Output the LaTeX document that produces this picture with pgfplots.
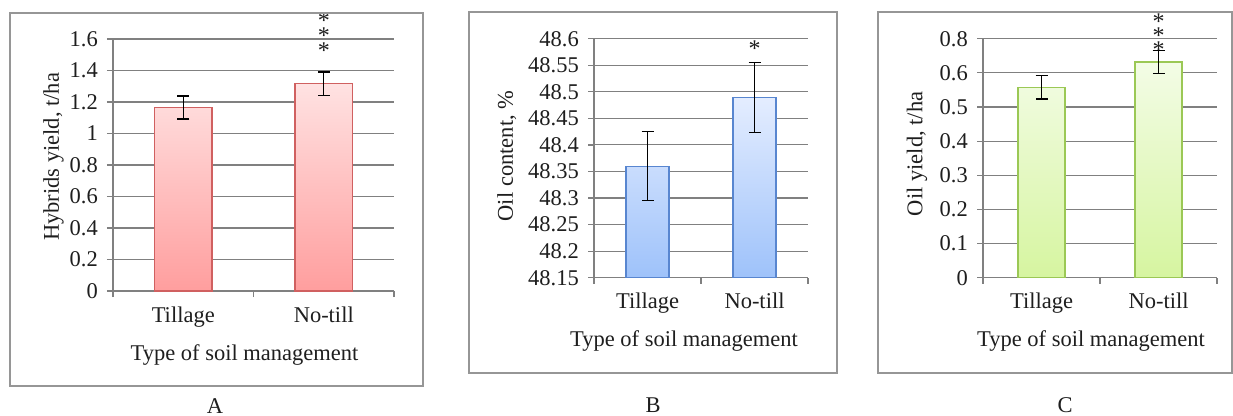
\documentclass[border=0pt]{standalone}
\usepackage{fontspec}
\setmainfont{Liberation Serif}
\usepackage{pgfplots}
\pgfplotsset{compat=1.18}

\definecolor{gridc}{RGB}{128,128,128}
\definecolor{framec}{RGB}{150,150,150}
\definecolor{textc}{RGB}{30,30,30}
\definecolor{redtop}{RGB}{255,226,226}
\definecolor{redbot}{RGB}{255,158,158}
\definecolor{redline}{RGB}{208,96,96}
\definecolor{bluetop}{RGB}{228,237,255}
\definecolor{bluebot}{RGB}{158,194,250}
\definecolor{blueline}{RGB}{88,134,208}
\definecolor{greentop}{RGB}{243,252,230}
\definecolor{greenbot}{RGB}{214,245,160}
\definecolor{greenline}{RGB}{155,200,85}

\newcommand{\bigf}{\fontsize{22.5}{27}\selectfont}
\newcommand{\astf}{\fontsize{24}{28}\selectfont}

\tikzset{ast/.style={font=\astf, anchor=base, yshift=-11.3pt, inner sep=0pt, text=textc}}

\pgfplotsset{
  panel/.style={
    scale only axis,
    xmin=-0.5, xmax=1.5,
    axis x line*=bottom, axis y line*=left,
    axis line style={gridc, line width=1.2pt, -},
    tick align=outside,
    xtick={-0.5,0.5,1.5}, xticklabels={},
    major tick length=6pt,
    tick style={gridc, line width=1.2pt},
    extra x ticks={0,1},
    extra x tick labels={Tillage,No-till},
    extra x tick style={major tick length=0pt, xticklabel style={anchor=base, yshift=-31pt}},
    ymajorgrids,
    major grid style={gridc, line width=1.1pt},
    tick label style={font=\bigf, text=textc},
    label style={font=\bigf, text=textc},
    yticklabel style={anchor=east, inner sep=0pt, xshift=-9pt},
    xlabel={Type of soil management},
    xlabel style={at={(axis description cs:0.5,0)}, anchor=base, yshift=-69pt},
    ylabel style={anchor=center},
    clip=false,
  },
  errb/.style={error bars/.cd, y dir=both, y explicit,
    error bar style={black, line width=1.3pt},
    error mark options={rotate=90, black, line width=1.3pt, mark size=6pt}},
}

\begin{document}
\begin{tikzpicture}
% Panel A
\begin{scope}[shift={(113pt,124pt)}]
\begin{axis}[panel, anchor=south west, at={(0pt,0pt)}, width=281pt, height=252pt,
  ymin=0, ymax=1.6,
  ytick={0,0.2,0.4,0.6,0.8,1,1.2,1.4,1.6},
  yticklabels={0,0.2,0.4,0.6,0.8,1,1.2,1.4,1.6},
  ylabel={Hybrids yield, t/ha},
  ylabel style={at={(axis description cs:-0.212,0.532)}},
  xlabel style={xshift=-9pt}]
\addplot[ybar, bar width=0.41, bar shift=0pt, draw=redline, line width=1.3pt,
  top color=redtop, bottom color=redbot, errb]
  coordinates {(0,1.165) +- (0,0.073) (1,1.316) +- (0,0.074)};
\node[ast] at (axis cs:1,1.549) {*};
\node[ast] at (axis cs:1,1.644) {*};
\node[ast] at (axis cs:1,1.740) {*};
\end{axis}
\end{scope}

% Panel B
\begin{scope}[shift={(594pt,137.3pt)}]
\begin{axis}[panel, anchor=south west, at={(0pt,0pt)}, width=214pt, height=239pt,
  y coord trafo/.code={\pgfmathparse{#1-48.15}},
  y coord inv trafo/.code={\pgfmathparse{#1+48.15}},
  ymin=48.15, ymax=48.6,
  ytick={48.15,48.2,48.25,48.3,48.35,48.4,48.45,48.5,48.55,48.6},
  yticklabels={48.15,48.2,48.25,48.3,48.35,48.4,48.45,48.5,48.55,48.6},
  ylabel={Oil content, \%},
  ylabel style={at={(axis description cs:-0.407,0.509)}},
  xlabel style={xshift=-17pt}]
\addplot[ybar, bar width=0.40, bar shift=0pt, draw=blueline, line width=1.3pt,
  top color=bluetop, bottom color=bluebot, errb]
  coordinates {(0,48.360) +- (0,0.065) (1,48.489) +- (0,0.066)};
\node[ast] at (axis cs:1,48.588) {*};
\end{axis}
\end{scope}

% Panel C
\begin{scope}[shift={(983pt,137.3pt)}]
\begin{axis}[panel, anchor=south west, at={(0pt,0pt)}, width=234pt, height=239pt,
  ymin=0, ymax=0.7,
  ytick={0,0.1,0.2,0.3,0.4,0.5,0.6,0.7},
  yticklabels={0,0.1,0.2,0.3,0.4,0.5,0.6,0.8},
  ylabel={Oil yield, t/ha},
  ylabel style={at={(axis description cs:-0.282,0.518)}},
  xlabel style={xshift=-9pt}]
\addplot[ybar, bar width=0.40, bar shift=0pt, draw=greenline, line width=1.3pt,
  top color=greentop, bottom color=greenbot, errb]
  coordinates {(0,0.558) +- (0,0.035) (1,0.632) +- (0,0.034)};
\node[ast] at (axis cs:1,0.679) {*};
\node[ast] at (axis cs:1,0.720) {*};
\node[ast] at (axis cs:1,0.761) {*};
\end{axis}
\end{scope}

\draw[framec, line width=1.5pt] (10pt,29pt) rectangle (423pt,402pt);
\draw[framec, line width=1.5pt] (469pt,42pt) rectangle (837pt,403pt);
\draw[framec, line width=1.5pt] (878pt,42pt) rectangle (1232pt,403pt);
\node[font=\bigf, text=textc, inner sep=0pt] at (215pt,8.5pt) {A};
\node[font=\bigf, text=textc, inner sep=0pt] at (653pt,10pt) {B};
\node[font=\bigf, text=textc, inner sep=0pt] at (1065pt,10pt) {C};
\pgfresetboundingbox
\path[use as bounding box] (0pt,0pt) rectangle (1233pt,415pt);
\end{tikzpicture}
\end{document}
